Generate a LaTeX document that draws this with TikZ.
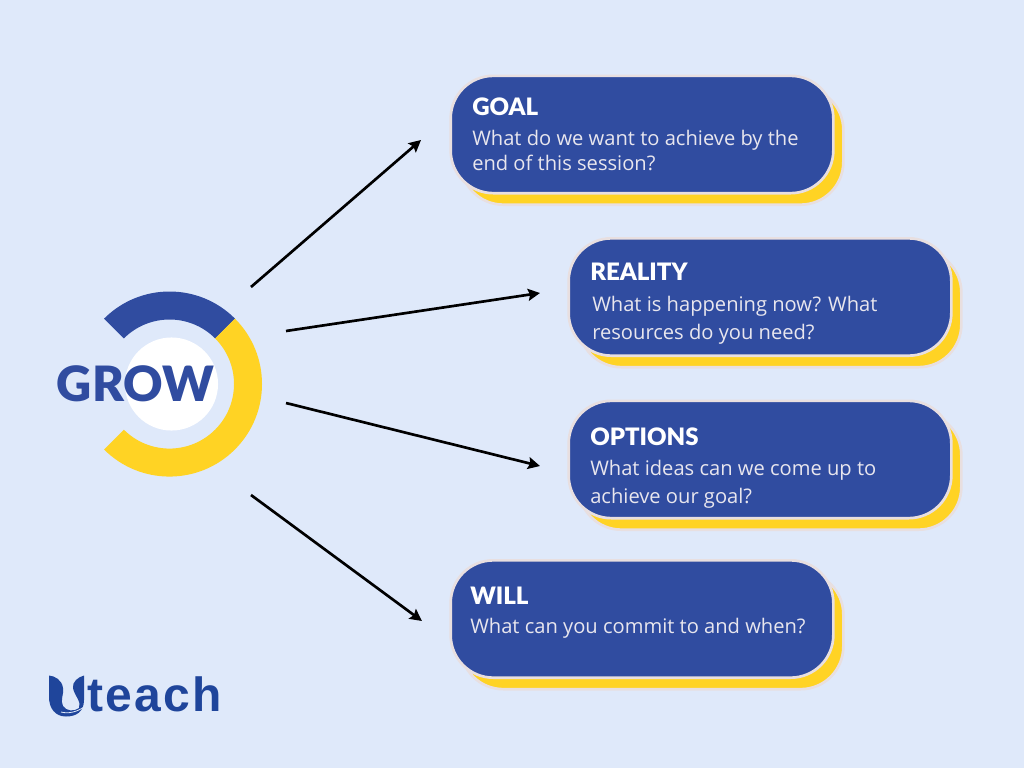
\documentclass[tikz,border=0pt]{standalone}
\usepackage{fontspec}
\setmainfont{Open Sans}
\newfontfamily\headfont[BoldFont={Lato Black}]{Lato}
\newfontfamily\logofont[LetterSpace=5]{Liberation Sans}
\usetikzlibrary{arrows.meta}
\definecolor{bgc}{HTML}{DFE9FA}
\definecolor{navy}{HTML}{304CA0}
\definecolor{sun}{HTML}{FFD324}
\definecolor{edgec}{HTML}{E8DFE0}
\definecolor{bodyc}{HTML}{E8E6EE}
\definecolor{logoc}{HTML}{1F459B}
\tikzset{
  x=0.75pt,y=-0.75pt,
  cardbox/.style={draw=edgec,line width=2pt,fill=navy,rounded corners=32pt,minimum width=287pt,minimum height=88pt,inner sep=0pt,outer sep=0pt},
  cardshadow/.style={draw=edgec,line width=2pt,fill=sun,rounded corners=32pt,minimum width=287pt,minimum height=88pt,inner sep=0pt,outer sep=0pt},
  cardhead/.style={anchor=base west,inner sep=0pt,text=white,font=\headfont\bfseries\fontsize{18}{20}\selectfont},
  cardbody/.style={anchor=base west,inner sep=0pt,text=bodyc,font=\fontsize{15.1}{18}\selectfont},
  link/.style={draw=black,line width=2pt,-{Stealth[length=9pt,width=9pt,inset=1.5pt]}}
}
\begin{document}
\begin{tikzpicture}
\fill[bgc] (0,0) rectangle (1024,768);
\useasboundingbox (0,0) rectangle (1024,768);
% ring
\def\cx{169.5}\def\cy{384}
\fill[navy,shift={(\cx,\cy)}] (-65.4,-65.4) arc[start angle=135,end angle=45,radius=69.4pt]
  -- ++(-19.8,19.8) arc[start angle=45,end angle=135,radius=48.4pt] -- cycle;
\fill[sun,shift={(\cx,\cy)}] (65.4,-65.4) arc[start angle=45,end angle=-135,radius=69.4pt]
  -- ++(19.8,-19.8) arc[start angle=-135,end angle=45,radius=48.4pt] -- cycle;
\node[circle,fill=white,minimum size=69.8pt,inner sep=0pt] (hub) at (171.5,384) {};
\node[anchor=base,inner sep=0pt,text=navy,font=\headfont\bfseries\fontsize{36.5}{40}\selectfont] (grow) at (135.5,401) {GROW};
% cards
\node[cardshadow] at (652,146) {};
\node[cardbox] (goal) at (642,134.5) {};
\node[cardshadow] at (770,308.5) {};
\node[cardbox] (reality) at (760,297) {};
\node[cardshadow] at (770,471) {};
\node[cardbox] (options) at (760,459.5) {};
\node[cardshadow] at (652,630.5) {};
\node[cardbox] (will) at (642,619) {};
% texts
\node[cardhead] (t1) at (472,115) {GOAL};
\node[cardbody] (b1a) at (472,145) {What do we want to achieve by the};
\node[cardbody] (b1b) at (472,170) {end of this session?};
\node[cardhead] (t2) at (590,280) {REALITY};
\node[cardbody] (b2a) at (592,311) {What is happening now? What};
\node[cardbody] (b2b) at (592,339) {resources do you need?};
\node[cardhead] (t3) at (590,445) {OPTIONS};
\node[cardbody] (b3a) at (590,475) {What ideas can we come up to};
\node[cardbody] (b3b) at (590,503) {achieve our goal?};
\node[cardhead] (t4) at (470,604) {WILL};
\node[cardbody] (b4) at (470,633) {What can you commit to and when?};
% connectors
\coordinate (s1) at (251,287); \coordinate (e1) at (421,140);
\coordinate (s2) at (286,331); \coordinate (e2) at (540,293);
\coordinate (s3) at (286,403); \coordinate (e3) at (540,466);
\coordinate (s4) at (251,495); \coordinate (e4) at (422,621);
\draw[link] (s1) -- (e1);
\draw[link] (s2) -- (e2);
\draw[link] (s3) -- (e3);
\draw[link] (s4) -- (e4);
% logo
\fill[logoc] (49,675.5) .. controls (55,676) and (62,680) .. (63,688)
  .. controls (64,695) and (60,700) .. (63,706)
  .. controls (66,711) and (74,712) .. (79,708)
  .. controls (82,702) and (74,695) .. (73,688)
  .. controls (72,682) and (78,677) .. (84,675.5)
  -- (84,700)
  .. controls (84,712) and (76,716.5) .. (66,716.5)
  .. controls (55,716.5) and (49,708) .. (49,697) -- cycle;
\draw[bgc,line width=0.6pt] (61,712) .. controls (68,714) and (77,712) .. (84,707);
\node[anchor=base west,inner sep=0pt,text=logoc,font=\logofont\bfseries\fontsize{36}{38}\selectfont] (logo) at (87,711) {teach};
\end{tikzpicture}
\end{document}
